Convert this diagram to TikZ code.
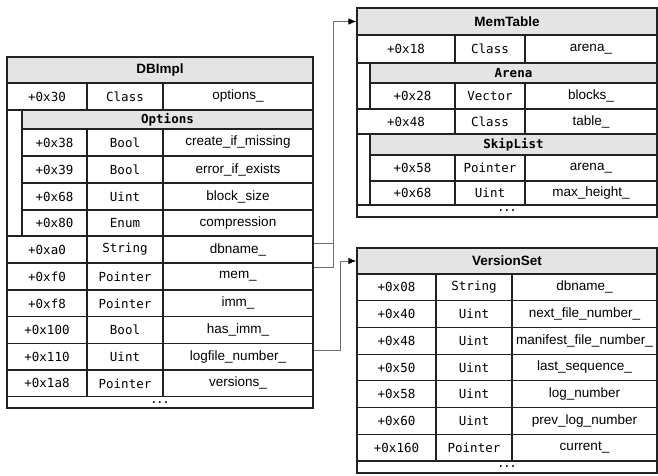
\documentclass[tikz,border=0pt]{standalone}
\usepackage{fontspec}
\setmainfont{Liberation Sans}
\setmonofont{DejaVu Sans Mono}
\usetikzlibrary{arrows.meta}
\definecolor{hdr}{HTML}{E4E4E4}
\definecolor{bord}{HTML}{222222}
\definecolor{connc}{HTML}{6E6E6E}
\tikzset{
  cell/.style={draw=bord, line width=1.2pt, inner sep=0pt, anchor=center},
  hcell/.style={cell, fill=hdr},
  mono/.style={font=\fontsize{12.5}{14}\ttfamily},
  sans/.style={font=\fontsize{13.5}{15}\selectfont},
  thead/.style={hcell, font=\fontsize{13.5}{15}\selectfont\bfseries},
  nhead/.style={hcell, font=\fontsize{12.5}{14}\ttfamily\bfseries},
  dotsrow/.style={cell, font=\fontsize{10}{10}\ttfamily\bfseries},
  conn/.style={draw=connc, line width=1pt},
  arr/.style={conn, -{Latex[length=8pt,width=6.5pt,fill=black,color=black]}},
}
\newcommand\boxnode[7]{%
  \pgfmathsetmacro\bw{#4-#2}\pgfmathsetmacro\bh{#5-#3}%
  \pgfmathsetmacro\bx{(#2+#4)/2}\pgfmathsetmacro\by{(#3+#5)/2}%
  \node[#6, minimum width=\bw pt, minimum height=\bh pt] (#1) at (\bx,\by) {#7};}
\newcommand\trow[6]{%
  \boxnode{#1o}{\cA}{#2}{\cB}{#3}{cell,mono}{#4}%
  \boxnode{#1t}{\cB}{#2}{\cC}{#3}{cell,mono}{#5}%
  \boxnode{#1n}{\cC}{#2}{\cD}{#3}{cell,sans}{#6}}
\begin{document}
\begin{tikzpicture}[x=1pt,y=-1pt]
\useasboundingbox (0,0) rectangle (658,475);
\fill[white] (0,0) rectangle (658,475);

% ---------------- DBImpl ----------------
\def\cB{87}\def\cC{163}\def\cD{313}
\boxnode{dbh}{7}{57}{313}{83}{thead}{DBImpl}
\def\cA{7}
\trow{db30}{83}{110}{+0x30}{Class}{options\_}
\boxnode{dbopt}{22}{110}{313}{129}{nhead}{Options}
\def\cA{22}
\trow{db38}{129}{156}{+0x38}{Bool}{create\_if\_missing}
\trow{db39}{156}{183}{+0x39}{Bool}{error\_if\_exists}
\trow{db68}{183}{210}{+0x68}{Uint}{block\_size}
\trow{db80}{210}{236}{+0x80}{Enum}{compression}
\boxnode{dbg}{7}{110}{22}{236}{cell}{}
\def\cA{7}
\trow{dba0}{236}{263}{+0xa0}{String}{dbname\_}
\trow{dbf0}{263}{290}{+0xf0}{Pointer}{mem\_}
\trow{dbf8}{290}{316.7}{+0xf8}{Pointer}{imm\_}
\trow{db100}{316.7}{343.4}{+0x100}{Bool}{has\_imm\_}
\trow{db110}{343.4}{370}{+0x110}{Uint}{logfile\_number\_}
\trow{db1a8}{370}{396.7}{+0x1a8}{Pointer}{versions\_}
\boxnode{dbdots}{7}{396.7}{313}{408}{dotsrow}{...}

% ---------------- MemTable ----------------
\def\cB{455}\def\cC{525}\def\cD{657}
\boxnode{mth}{357}{8}{657}{35}{thead}{MemTable}
\def\cA{357}
\trow{m18}{35}{63}{+0x18}{Class}{arena\_}
\boxnode{mtar}{370}{63}{657}{83}{nhead}{Arena}
\def\cA{370}
\trow{m28}{83}{109}{+0x28}{Vector}{blocks\_}
\boxnode{mtg1}{357}{63}{370}{109}{cell}{}
\def\cA{357}
\trow{m48}{109}{134}{+0x48}{Class}{table\_}
\boxnode{mtsl}{370}{134}{657}{155}{nhead}{SkipList}
\def\cA{370}
\trow{m58}{155}{181}{+0x58}{Pointer}{arena\_}
\trow{m68}{181}{205}{+0x68}{Uint}{max\_height\_}
\boxnode{mtg2}{357}{134}{370}{205}{cell}{}
\boxnode{mtdots}{357}{205}{657}{217}{dotsrow}{...}

% ---------------- VersionSet ----------------
\def\cA{357}\def\cB{436}\def\cC{512}\def\cD{657}
\boxnode{vsh}{357}{248}{657}{274}{thead}{VersionSet}
\trow{v08}{274}{300.7}{+0x08}{String}{dbname\_}
\trow{v40}{300.7}{327.4}{+0x40}{Uint}{next\_file\_number\_}
\trow{v48}{327.4}{354.1}{+0x48}{Uint}{manifest\_file\_number\_}
\trow{v50}{354.1}{380.8}{+0x50}{Uint}{last\_sequence\_}
\trow{v58}{380.8}{407.5}{+0x58}{Uint}{log\_number}
\trow{v60}{407.5}{434.2}{+0x60}{Uint}{prev\_log\_number}
\trow{v160}{434.2}{461}{+0x160}{Pointer}{current\_}
\boxnode{vsdots}{357}{461}{657}{473}{dotsrow}{...}

% ---------------- connectors ----------------
\coordinate (k1) at (333,0);
\coordinate (k2) at (340.7,0);
\coordinate (s1) at ([yshift=6.5pt]dba0n.east);
\coordinate (s2) at ([yshift=9.5pt]dbf0n.east);
\coordinate (s3) at ([yshift=6.5pt]db110n.east);
\draw[arr] (s2) -| (k1 |- mth.west) -- (mth.west);
\draw[conn] (s1) -- (s1 -| k1);
\draw[arr] (s3) -| (k2 |- vsh.west) -- (vsh.west);
\end{tikzpicture}
\end{document}
